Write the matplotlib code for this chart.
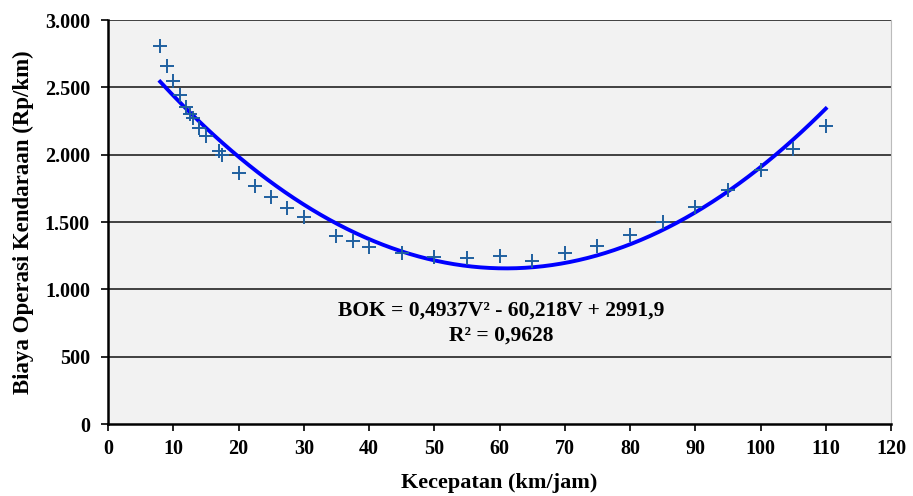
import numpy as np
import matplotlib.pyplot as plt
from matplotlib.ticker import FuncFormatter

# observed points (speed km/jam, cost Rp/km)
speed = [8, 9, 10, 11, 12, 12.5, 13, 14, 15, 17, 17.5, 20, 22.5, 25, 27.5, 30,
         35, 37.5, 40, 45, 50, 55, 60, 65, 70, 75, 80, 85, 90, 95, 100, 105, 110]
bok = [2810, 2660, 2550, 2440, 2355, 2305, 2275, 2200, 2140, 2030, 1995, 1866,
       1770, 1683, 1606, 1535, 1396, 1361, 1317, 1268, 1243, 1230, 1247, 1210,
       1268, 1322, 1403, 1497, 1614, 1738, 1886, 2040, 2213]

# trendline coefficients from the chart
coef = [0.4937, -60.218, 2991.9]

plt.rcParams['font.family'] = ['Liberation Serif', 'DejaVu Serif']
plt.rcParams['font.weight'] = 'bold'

fig = plt.figure(figsize=(9.13, 4.96), dpi=100)
ax = fig.add_axes([108/913, 72/496, 783/913, 404/496])
ax.set_facecolor('#f2f2f2')

ax.set_xlim(0, 120)
ax.set_ylim(0, 3000)
ax.set_xticks(np.arange(0, 121, 10))
ax.set_yticks(np.arange(0, 3001, 500))
ax.yaxis.set_major_formatter(FuncFormatter(lambda v, p: f"{int(v):,}".replace(',', '.')))

for yv in np.arange(500, 3001, 500):
    ax.axhline(yv, color='#333333', lw=1.3, zorder=1)

v = np.linspace(speed[0], speed[-1], 300)
ax.plot(v, np.polyval(coef, v), color='#0000ff', lw=2.8, zorder=3)
ax.plot(speed, bok, '+', color='#1f5f9f', ms=10, mew=1.4, zorder=4)

ax.text(60.2, 839, 'BOK = 0,4937V² - 60,218V + 2991,9', ha='center', va='center',
        fontsize=15.5, fontweight='bold')
ax.text(60.2, 653, 'R² = 0,9628', ha='center', va='center',
        fontsize=15.5, fontweight='bold')

ax.spines['top'].set_visible(False)
ax.spines['right'].set_color('#bbbbbb')
ax.spines['left'].set_linewidth(1.8)
ax.spines['bottom'].set_linewidth(1.8)
ax.tick_params(axis='both', labelsize=14.5, direction='out', length=5, width=1.2)
ax.tick_params(axis='y', pad=8)
ax.tick_params(axis='x', pad=6)

ax.set_xlabel('Kecepatan (km/jam)', fontsize=16, fontweight='bold', labelpad=10)
ax.set_ylabel('Biaya Operasi Kendaraan (Rp/km)', fontsize=16.5, fontweight='bold', labelpad=8)

fig.savefig('out.png', dpi=100)
